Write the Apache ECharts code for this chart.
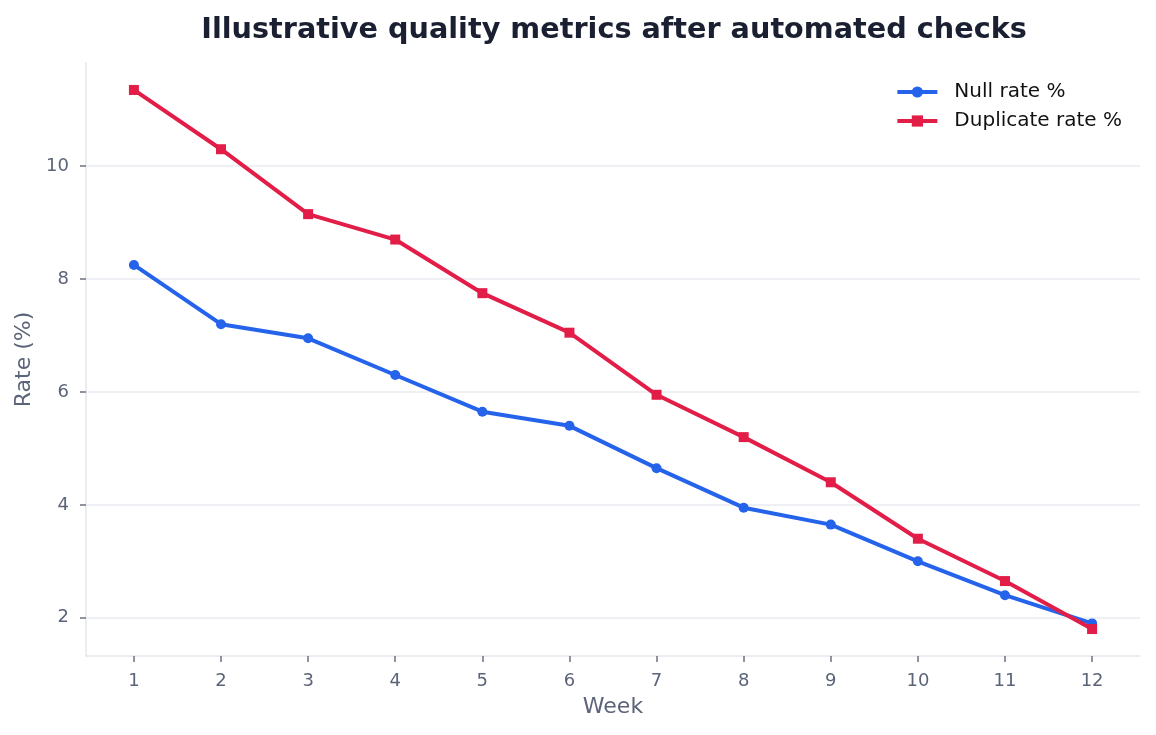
<!DOCTYPE html>
<html>
<head>
<meta charset="utf-8">
<script src="https://cdn.jsdelivr.net/npm/echarts@6/dist/echarts.min.js"></script>
<style>
  html, body { margin: 0; padding: 0; background: #fff; }
  #chart { width: 1156px; height: 735px; }
</style>
</head>
<body>
<div id="chart"></div>
<script>
const weeks = [1, 2, 3, 4, 5, 6, 7, 8, 9, 10, 11, 12];
const nullRate = [8.25, 7.2, 6.95, 6.3, 5.65, 5.4, 4.65, 3.95, 3.65, 3.0, 2.4, 1.9];
const dupRate = [11.35, 10.3, 9.15, 8.7, 7.75, 7.05, 5.95, 5.2, 4.4, 3.4, 2.65, 1.8];
const yTicks = [2, 4, 6, 8, 10];

const font = "DejaVu Sans";
const blue = "#2563eb";
const red = "#e11d48";
const labelColor = "#5b6478";

// matplotlib-like 5% margins
const allVals = nullRate.concat(dupRate);
const yMin = Math.min(...allVals), yMax = Math.max(...allVals);
const yPad = (yMax - yMin) * 0.05;
const xPad = (weeks[weeks.length - 1] - weeks[0]) * 0.05;

const chart = echarts.init(document.getElementById("chart"));
chart.setOption({
  animation: false,
  textStyle: { fontFamily: font },
  title: {
    text: "Illustrative quality metrics after automated checks",
    left: 609,
    textAlign: "center",
    top: 11,
    textStyle: { fontFamily: font, fontSize: 28.7, fontWeight: "bold", color: "#1a2031" }
  },
  legend: {
    right: 29,
    top: 77,
    orient: "vertical",
    itemWidth: 40,
    itemHeight: 14,
    itemGap: 9,
    lineStyle: { width: 4 },
    textStyle: { fontFamily: font, fontSize: 20, color: "#111", padding: [0, 0, 0, 12] }
  },
  grid: { left: 86, right: 16, top: 63, bottom: 79 },
  xAxis: {
    type: "value",
    min: weeks[0] - xPad,
    max: weeks[weeks.length - 1] + xPad,
    name: "Week",
    nameLocation: "middle",
    nameGap: 40,
    nameTextStyle: { fontFamily: font, fontSize: 22, color: labelColor },
    axisLine: { show: true, lineStyle: { color: "#e5e7eb", width: 1.5 } },
    axisTick: { show: true, customValues: weeks, length: 6, lineStyle: { color: "#6b7280", width: 1.5 } },
    axisLabel: { customValues: weeks, margin: 16, fontSize: 18, color: labelColor, fontFamily: font },
    splitLine: { show: false }
  },
  yAxis: {
    type: "value",
    min: yMin - yPad,
    max: yMax + yPad,
    name: "Rate (%)",
    nameLocation: "middle",
    nameGap: 50,
    nameTextStyle: { fontFamily: font, fontSize: 22, color: labelColor },
    axisLine: { show: true, lineStyle: { color: "#e5e7eb", width: 1.5 } },
    axisTick: { show: true, customValues: yTicks, length: 6, lineStyle: { color: "#6b7280", width: 1.5 } },
    axisLabel: { customValues: yTicks, margin: 17, fontSize: 18, color: labelColor, fontFamily: font },
    splitLine: { show: true, customValues: yTicks, lineStyle: { color: "#e9ebef", width: 1.5 } }
  },
  series: [
    {
      name: "Null rate %",
      type: "line",
      data: weeks.map((w, i) => [w, nullRate[i]]),
      symbol: "circle",
      symbolSize: 10,
      color: blue,
      lineStyle: { width: 4, color: blue },
      itemStyle: { color: blue }
    },
    {
      name: "Duplicate rate %",
      type: "line",
      data: weeks.map((w, i) => [w, dupRate[i]]),
      symbol: "rect",
      symbolSize: 10,
      color: red,
      lineStyle: { width: 4, color: red },
      itemStyle: { color: red }
    }
  ]
});
</script>
</body>
</html>
